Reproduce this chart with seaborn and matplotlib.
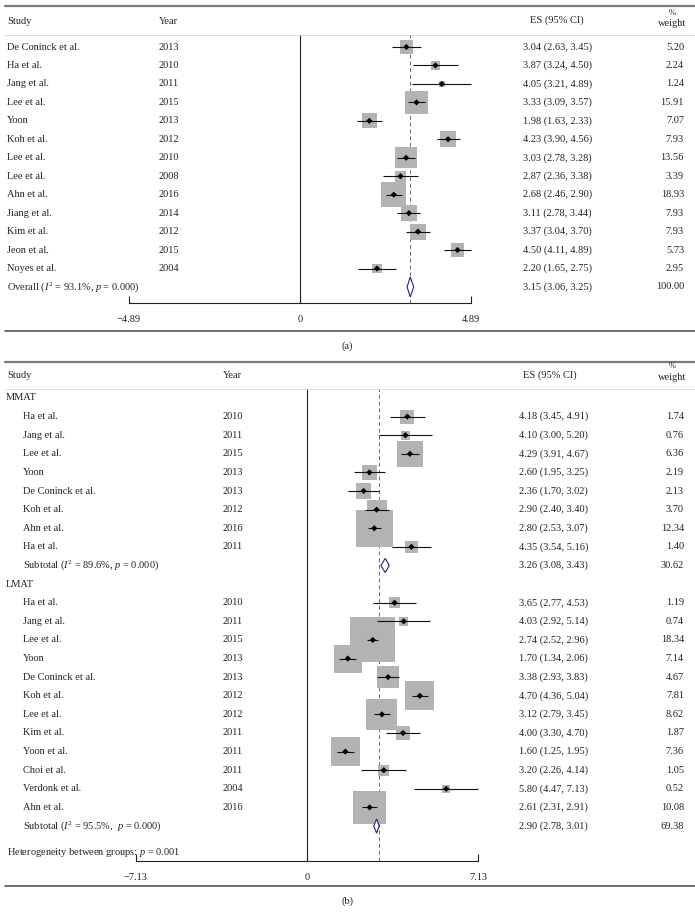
import numpy as np
import pandas as pd
import matplotlib

matplotlib.use("Agg")
import matplotlib.pyplot as plt
import seaborn as sns

# ---- panel (a): pooled studies ----
studies_a = ["De Coninck et al.", "Ha et al.", "Jang et al.", "Lee et al.", "Yoon",
             "Koh et al.", "Lee et al.", "Lee et al.", "Ahn et al.", "Jiang et al.",
             "Kim et al.", "Jeon et al.", "Noyes et al."]
years_a = [2013, 2010, 2011, 2015, 2013, 2012, 2010, 2008, 2016, 2014, 2012, 2015, 2004]
es_a = [3.04, 3.87, 4.05, 3.33, 1.98, 4.23, 3.03, 2.87, 2.68, 3.11, 3.37, 4.50, 2.20]
lo_a = [2.63, 3.24, 3.21, 3.09, 1.63, 3.90, 2.78, 2.36, 2.46, 2.78, 3.04, 4.11, 1.65]
hi_a = [3.45, 4.50, 4.89, 3.57, 2.33, 4.56, 3.28, 3.38, 2.90, 3.44, 3.70, 4.89, 2.75]
wt_a = [5.20, 2.24, 1.24, 15.91, 7.07, 7.93, 13.56, 3.39, 18.93, 7.93, 7.93, 5.73, 2.95]
overall_a = (3.15, 3.06, 3.25, 100.00)
overall_a_label = r"Overall ($I^2$ = 93.1%, $p$ = 0.000)"
ticks_a = [-4.89, 0, 4.89]

# ---- panel (b): MMAT / LMAT subgroups ----
studies_mmat = ["Ha et al.", "Jang et al.", "Lee et al.", "Yoon", "De Coninck et al.",
                "Koh et al.", "Ahn et al.", "Ha et al."]
years_mmat = [2010, 2011, 2015, 2013, 2013, 2012, 2016, 2011]
es_mmat = [4.18, 4.10, 4.29, 2.60, 2.36, 2.90, 2.80, 4.35]
lo_mmat = [3.45, 3.00, 3.91, 1.95, 1.70, 2.40, 2.53, 3.54]
hi_mmat = [4.91, 5.20, 4.67, 3.25, 3.02, 3.40, 3.07, 5.16]
wt_mmat = [1.74, 0.76, 6.36, 2.19, 2.13, 3.70, 12.34, 1.40]
sub_mmat = (3.26, 3.08, 3.43, 30.62)
sub_mmat_label = r"Subtotal ($I^2$ = 89.6%, $p$ = 0.000)"

studies_lmat = ["Ha et al.", "Jang et al.", "Lee et al.", "Yoon", "De Coninck et al.",
                "Koh et al.", "Lee et al.", "Kim et al.", "Yoon et al.", "Choi et al.",
                "Verdonk et al.", "Ahn et al."]
years_lmat = [2010, 2011, 2015, 2013, 2013, 2012, 2012, 2011, 2011, 2011, 2004, 2016]
es_lmat = [3.65, 4.03, 2.74, 1.70, 3.38, 4.70, 3.12, 4.00, 1.60, 3.20, 5.80, 2.61]
lo_lmat = [2.77, 2.92, 2.52, 1.34, 2.93, 4.36, 2.79, 3.30, 1.25, 2.26, 4.47, 2.31]
hi_lmat = [4.53, 5.14, 2.96, 2.06, 3.83, 5.04, 3.45, 4.70, 1.95, 4.14, 7.13, 2.91]
wt_lmat = [1.19, 0.74, 18.34, 7.14, 4.67, 7.81, 8.62, 1.87, 7.36, 1.05, 0.52, 10.08]
sub_lmat = (2.90, 2.78, 3.01, 69.38)
sub_lmat_label = r"Subtotal ($I^2$ = 95.5%,  $p$ = 0.000)"
overall_b = 3.01
het_label = r"Heterogeneity between groups: $p$ = 0.001"
ticks_b = [-7.13, 0, 7.13]

W, H = 695, 923
BOX = "#b3b3b3"
NAVY = "#23237a"
INK = "#222222"
FS = 7.5

sns.set_theme(style="white")
plt.rcParams["font.family"] = ["Liberation Serif", "DejaVu Serif"]
plt.rcParams["mathtext.fontset"] = "custom"
plt.rcParams["mathtext.rm"] = "Liberation Serif"
plt.rcParams["mathtext.it"] = "Liberation Serif:italic"

fig = plt.figure(figsize=(W / 100, H / 100), dpi=100)


def fx(px):
    return px / W


def fy(py):
    return 1 - py / H


def rule(py, lw, color):
    fig.add_artist(plt.Line2D([fx(5), 1], [fy(py), fy(py)], lw=lw, color=color))


def ftext(px, py, s, size=FS, **kw):
    fig.text(fx(px), fy(py), s, fontsize=size, color=INK, va="center", **kw)


def make_axes(top, bottom, zero_px, px_per_unit, row0_px, row_step):
    ax = fig.add_axes([0, fy(bottom), 1, (bottom - top) / H])
    ax.set_xlim(-zero_px / px_per_unit, (W - zero_px) / px_per_unit)
    ax.set_ylim((bottom - row0_px) / row_step, (top - row0_px) / row_step)
    ax.patch.set_alpha(0)
    for side in ["top", "right", "left"]:
        ax.spines[side].set_visible(False)
    ax.set_yticks([])
    return ax


def draw_studies(ax, rows, es, lo, hi, wt, k):
    df = pd.DataFrame({"row": rows, "es": es, "lo": lo, "hi": hi, "wt": wt})
    sns.scatterplot(data=df, x="es", y="row", marker="s", s=df["wt"] * k, color=BOX,
                    edgecolor="none", linewidth=0, ax=ax, legend=False, zorder=2)
    ax.hlines(df["row"], df["lo"], df["hi"], color="#111111", lw=0.8, zorder=3)
    sns.scatterplot(data=df, x="es", y="row", marker="D", s=10, color="black",
                    edgecolor="none", linewidth=0, ax=ax, legend=False, zorder=4)


def draw_diamond(ax, row, est, half_h):
    e, l, h, _ = est
    ax.fill([l, e, h, e], [row, row - half_h, row, row + half_h], facecolor="white",
            edgecolor=NAVY, lw=0.8, zorder=5)


def style_axis(ax, ticks):
    ax.spines["bottom"].set_bounds(ticks[0], ticks[-1])
    ax.spines["bottom"].set_color(INK)
    ax.spines["bottom"].set_linewidth(0.8)
    ax.set_xticks(ticks)
    ax.set_xticklabels([f"{t:g}".replace("-", "\u2212") if t else "0" for t in ticks])
    ax.tick_params(axis="x", direction="in", length=5, width=0.8, color=INK,
                   pad=9, labelsize=FS, labelcolor=INK, bottom=True)
    ax.set_xlabel("")
    ax.set_ylabel("")


def ci_text(v):
    return f"{v[0]:.2f} ({v[1]:.2f}, {v[2]:.2f})"


def row_text(ax, px, row, s, **kw):
    ax.text(fx(px), row, s, transform=ax.get_yaxis_transform(), fontsize=FS,
            va="center", color=INK, **kw)


# ================= panel (a) =================
ax_a = make_axes(35, 303, 300, 35.0, 47, 18.46)
rows_a = np.arange(len(studies_a))
row_ov_a = len(studies_a)
ax_a.axvline(0, color=INK, lw=0.8, zorder=1)
ax_a.axvline(overall_a[0], color="#6a6a6a", lw=0.7, ls=(0, (4, 3)), zorder=1)
draw_studies(ax_a, rows_a, es_a, lo_a, hi_a, wt_a, 17.1)
draw_diamond(ax_a, row_ov_a, overall_a, 0.54)
style_axis(ax_a, ticks_a)

rule(6, 1.6, "#7a7a7a")
rule(35, 0.5, "#d0d0d0")
rule(331, 1.2, "#555555")
ftext(7, 21, "Study")
ftext(159, 21, "Year")
ftext(557, 20, "ES (95% CI)", ha="center")
ftext(672, 13, "%", size=FS - 1.5, ha="center")
ftext(672, 24, "weight", ha="center")

for r, name, yr, e, l, h, w in zip(rows_a, studies_a, years_a, es_a, lo_a, hi_a, wt_a):
    row_text(ax_a, 7, r, name)
    row_text(ax_a, 159, r, str(yr))
    row_text(ax_a, 523, r, ci_text((e, l, h)))
    row_text(ax_a, 684, r, f"{w:.2f}", ha="right")
row_text(ax_a, 7, row_ov_a, overall_a_label)
row_text(ax_a, 523, row_ov_a, ci_text(overall_a))
row_text(ax_a, 684, row_ov_a, f"{overall_a[3]:.2f}", ha="right")
ftext(347, 346, "(a)", ha="center")

# ================= panel (b) =================
ax_b = make_axes(389, 861, 307, 24.0, 398, 18.61)
n_m, n_l = len(studies_mmat), len(studies_lmat)
rows_mmat = np.arange(1, n_m + 1)
row_sub_m = n_m + 1
row_lmat_head = n_m + 2
rows_lmat = np.arange(n_m + 3, n_m + 3 + n_l)
row_sub_l = n_m + 3 + n_l
row_het = row_sub_l + 1.4

ax_b.axvline(0, color=INK, lw=0.8, zorder=1)
ax_b.axvline(overall_b, color="#6a6a6a", lw=0.7, ls=(0, (4, 3)), zorder=1)
draw_studies(ax_b, rows_mmat, es_mmat, lo_mmat, hi_mmat, wt_mmat, 57.0)
draw_studies(ax_b, rows_lmat, es_lmat, lo_lmat, hi_lmat, wt_lmat, 57.0)
draw_diamond(ax_b, row_sub_m, sub_mmat, 0.38)
draw_diamond(ax_b, row_sub_l, sub_lmat, 0.38)
style_axis(ax_b, ticks_b)

rule(362, 1.6, "#7a7a7a")
rule(389, 0.5, "#d0d0d0")
rule(886, 1.2, "#555555")
ftext(7, 376, "Study")
ftext(223, 376, "Year")
ftext(550, 375, "ES (95% CI)", ha="center")
ftext(672, 366, "%", size=FS - 1.5, ha="center")
ftext(672, 378, "weight", ha="center")

row_text(ax_b, 6, 0, "MMAT")
row_text(ax_b, 6, row_lmat_head, "LMAT")
groups = [
    (rows_mmat, studies_mmat, years_mmat, es_mmat, lo_mmat, hi_mmat, wt_mmat),
    (rows_lmat, studies_lmat, years_lmat, es_lmat, lo_lmat, hi_lmat, wt_lmat),
]
for rows, names, yrs, es, lo, hi, wt in groups:
    for r, name, yr, e, l, h, w in zip(rows, names, yrs, es, lo, hi, wt):
        row_text(ax_b, 23, r, name)
        row_text(ax_b, 223, r, str(yr))
        row_text(ax_b, 519, r, ci_text((e, l, h)))
        row_text(ax_b, 684, r, f"{w:.2f}", ha="right")
for r, lab, est in [(row_sub_m, sub_mmat_label, sub_mmat), (row_sub_l, sub_lmat_label, sub_lmat)]:
    row_text(ax_b, 23, r, lab)
    row_text(ax_b, 519, r, ci_text(est))
    row_text(ax_b, 684, r, f"{est[3]:.2f}", ha="right")
row_text(ax_b, 7, row_het, het_label)
ftext(347, 901, "(b)", ha="center")

fig.savefig("out.png", dpi=100)
